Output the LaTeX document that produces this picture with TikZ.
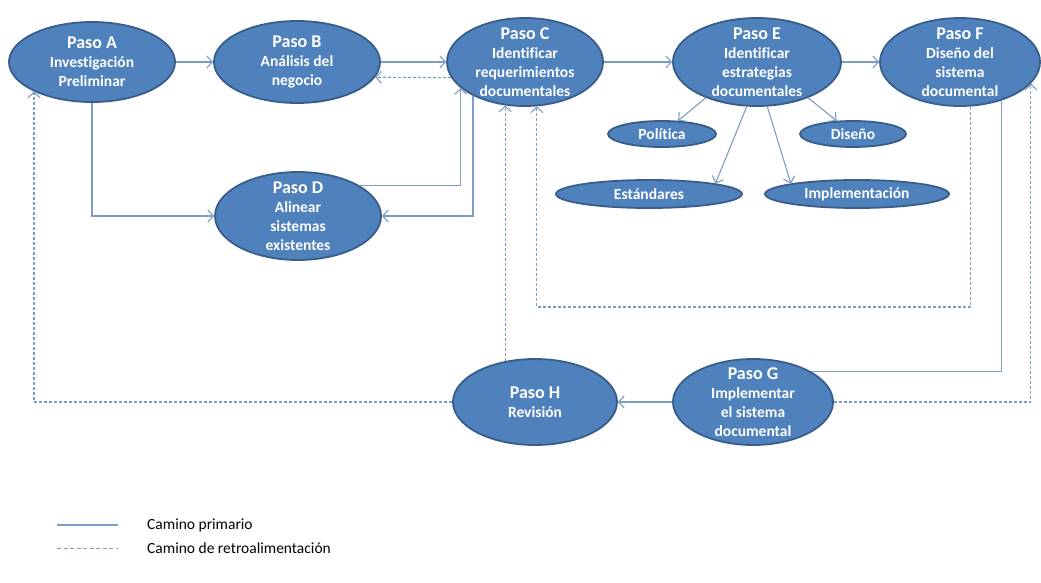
\documentclass[tikz,border=0pt]{standalone}
\usepackage{fontspec}
\setmainfont{Carlito}[Ligatures=NoCommon]
\usetikzlibrary{shapes.geometric,arrows.meta}
\definecolor{elfill}{HTML}{4F81BD}
\definecolor{elborder}{HTML}{385D8A}
\definecolor{lineblue}{HTML}{7E9CC6}
\newcommand{\pasottl}[1]{{\fontsize{18}{19}\selectfont #1}}
\tikzset{
  el/.style={ellipse, draw=elborder, fill=elfill, line width=1.8pt, inner sep=0pt},
  lab/.style={text=white, font=\bfseries\fontsize{15.5}{19}\selectfont, align=center, inner sep=0pt},
  conn/.style={draw=lineblue, line width=1.1pt},
  fb/.style={conn, dash pattern=on 3pt off 2pt},
  legtxt/.style={anchor=west, inner sep=0pt, text=black, font=\fontsize{15.5}{18}\selectfont},
  >={Straight Barb[length=5.5pt,width=12pt]}
}
\begin{document}
\begin{tikzpicture}[x=1pt,y=-1pt]
\useasboundingbox[fill=white] (0,0) rectangle (1041,583);
% main ellipses
\node[el, minimum width=166pt, minimum height=80pt] (A) at (92,62) {};
\node[el, minimum width=166pt, minimum height=82pt] (B) at (297,62) {};
\node[el, minimum width=156pt, minimum height=88pt] (C) at (525,62) {};
\node[el, minimum width=168pt, minimum height=88pt] (E) at (757,62) {};
\node[el, minimum width=160pt, minimum height=88pt] (F) at (960,62) {};
\node[el, minimum width=166pt, minimum height=88pt] (D) at (298,216) {};
\node[el, minimum width=164pt, minimum height=86pt] (H) at (535,402) {};
\node[el, minimum width=160pt, minimum height=86pt] (G) at (753,402) {};
% sub ellipses
\node[el, minimum width=108pt, minimum height=26pt] (pol) at (662,134) {};
\node[el, minimum width=106pt, minimum height=26pt] (dis) at (853,134) {};
\node[el, minimum width=186pt, minimum height=28pt] (est) at (649,194) {};
\node[el, minimum width=184pt, minimum height=28pt] (imp) at (857,194) {};
% labels
\node[lab] (At) at (A.center) {\pasottl{Paso A}\\Investigación\\Preliminar};
\node[lab] (Bt) at (B.center) {\pasottl{Paso B}\\Análisis del\\negocio};
\node[lab] (Ct) at (C.center) {\pasottl{Paso C}\\Identificar\\requerimientos\\documentales};
\node[lab] (Et) at (E.center) {\pasottl{Paso E}\\Identificar\\estrategias\\documentales};
\node[lab] (Ft) at (F.center) {\pasottl{Paso F}\\Diseño del\\sistema\\documental};
\node[lab] (Dt) at (D.center) {\pasottl{Paso D}\\Alinear\\sistemas\\existentes};
\node[lab] (Ht) at (H.center) {\pasottl{Paso H}\\Revisión};
\node[lab] (Gt) at (G.center) {\pasottl{Paso G}\\Implementar\\el sistema\\documental};
\node[lab] (polt) at (pol.center) {Política};
\node[lab] (dist) at (dis.center) {Diseño};
\node[lab] (estt) at (est.center) {Estándares};
\node[lab] (impt) at (imp.center) {Implementación};
% primary connectors
\draw[conn,->] (A.east) -- (B.west);
\draw[conn,->] (B.east) -- (C.west);
\draw[conn,->] (C.east) -- (E.west);
\draw[conn,->] (E.east) -- (F.west);
\draw[conn,->] (A.south) |- (D.west);
\draw[conn,->] (C.213) |- (D.east);
\draw[conn,->] (D.26) -| (C.202);
\draw[conn,->] (E.215) -- (pol);
\draw[conn,->] (E.325) -- (dis);
\draw[conn,->] (E.257) -- (est.9);
\draw[conn,->] (E.283) -- (imp.171);
\draw[conn] (F.317) |- (G.28);
\draw[conn,->] (G.west) -- (H.east);
% feedback connectors
\coordinate (fbY) at (0,307);
\draw[fb,->] (C.192) -- (B.349);
\draw[fb,->] (F.283) -- (F.283 |- fbY) -| (C.285);
\draw[fb,->] (H.126) -- (H.126 |- C.246);
\draw[fb,->] (G.east) -| (F.343);
\draw[fb,->] (H.west) -| (A.207);
% legend
\coordinate (l1a) at (57,525);
\coordinate (l1b) at (118,525);
\coordinate (l2a) at (57,548);
\coordinate (l2b) at (118,548);
\draw[conn] (l1a) -- (l1b);
\draw[draw=lineblue, line width=1pt, dash pattern=on 4pt off 2.5pt] (l2a) -- (l2b);
\node[legtxt] (leg1) at (147,525) {Camino primario};
\node[legtxt] (leg2) at (147,548) {Camino de retroalimentación};
\end{tikzpicture}
\end{document}
